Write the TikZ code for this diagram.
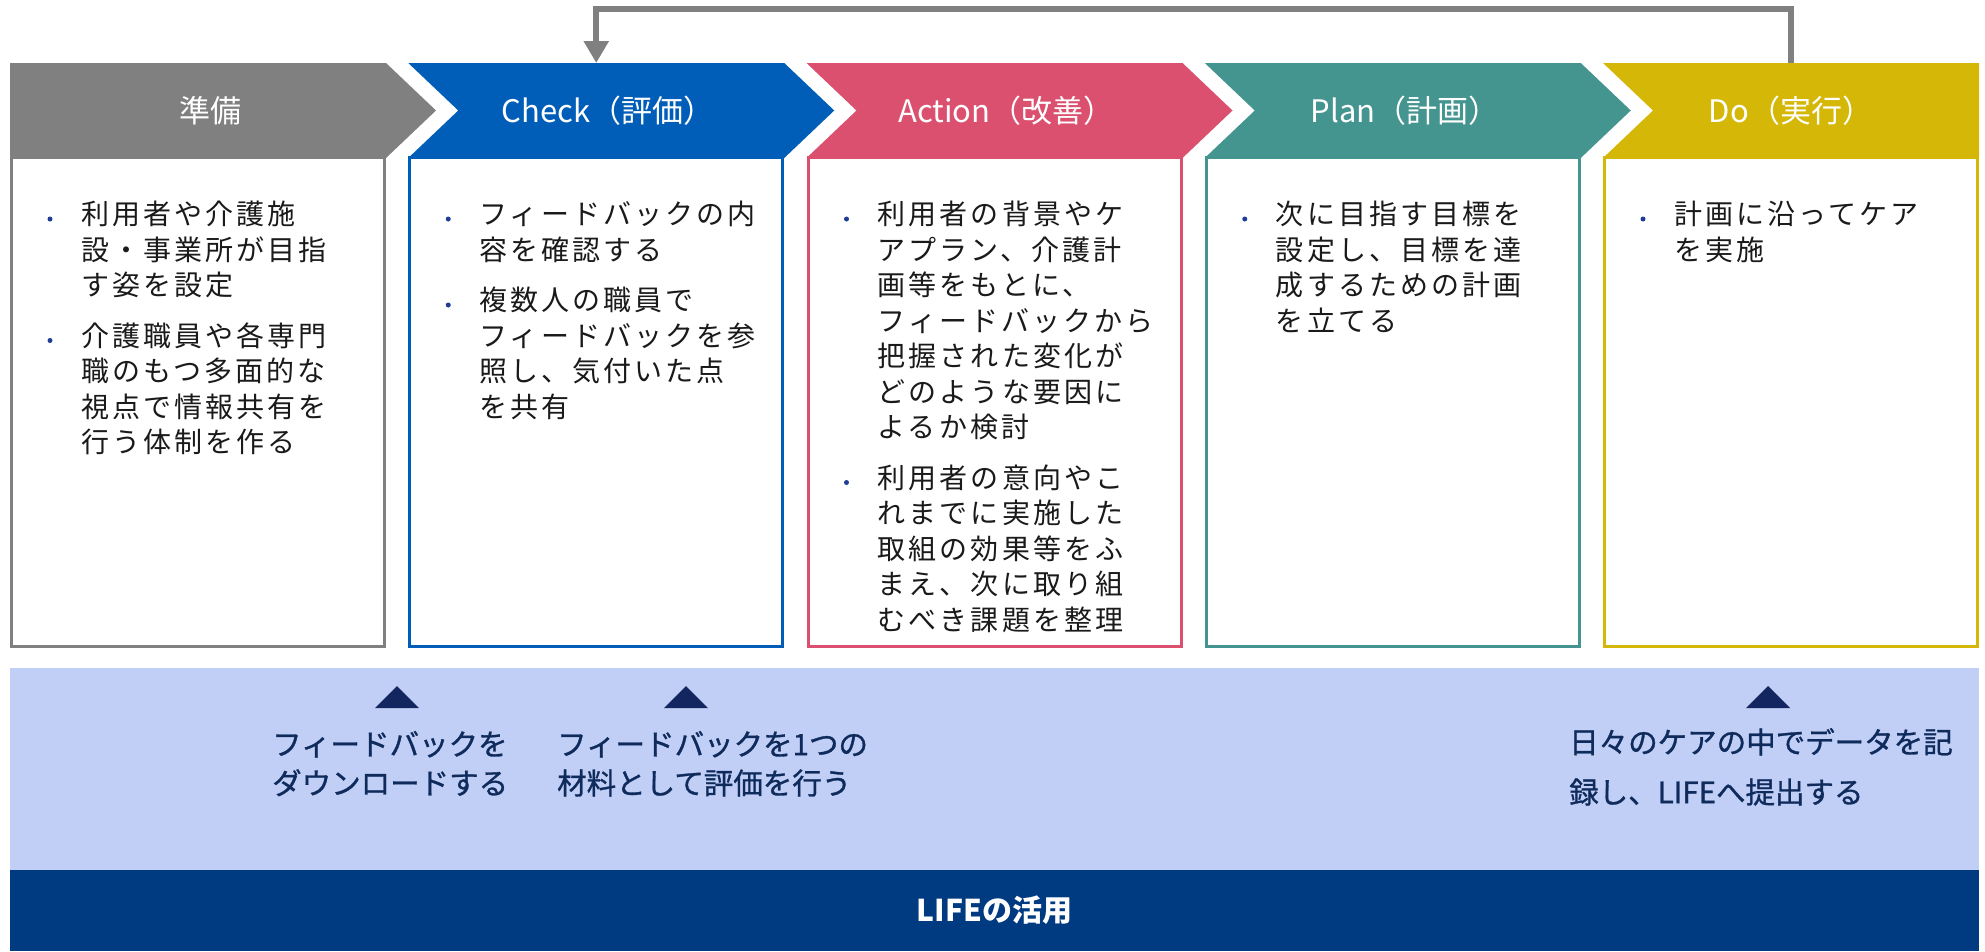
\documentclass[tikz,border=0pt]{standalone}
\usepackage{fontspec}
\setmainfont{Noto Sans CJK JP}
\newfontfamily\bodyfont[LetterSpace=11]{Noto Sans CJK JP}
\newfontfamily\labelfont[FakeBold=1]{Noto Sans CJK JP}
\usetikzlibrary{arrows.meta}
\definecolor{cgray}{HTML}{808080}
\definecolor{cblue}{HTML}{005EB8}
\definecolor{cred}{HTML}{DB4F6F}
\definecolor{cteal}{HTML}{44948F}
\definecolor{cyellow}{HTML}{D4B707}
\definecolor{lightband}{HTML}{C1CFF6}
\definecolor{darkband}{HTML}{003A80}
\definecolor{navytext}{HTML}{0E2B5C}
\definecolor{navytri}{HTML}{13265F}
\definecolor{bulletc}{HTML}{1F3C99}
\definecolor{bodytext}{HTML}{1A1A1A}
\newcommand\fstrut{\rule{0pt}{28pt}}
\begin{document}
\begin{tikzpicture}[x=1pt,y=-1pt,
  boxframe/.style={line width=3pt,fill=white},
  hdr/.style={anchor=base,inner sep=0pt,text=white,font=\fontsize{31}{36}\selectfont},
  bodytxt/.style={anchor=north west,inner sep=0pt,align=left,text=bodytext,font=\bodyfont\fontsize{28}{35.5}\selectfont},
  bulletdot/.style={circle,fill=bulletc,inner sep=0pt,minimum size=5pt},
  lbl/.style={anchor=north west,inner sep=0pt,align=left,text=navytext},
  loopline/.style={draw=cgray,line width=6pt,-{Triangle[width=24pt,length=22pt]}}
]
\useasboundingbox (0,0) rectangle (1985,951);

% body frames
\draw[boxframe,draw=cgray]   (11.5,157) rectangle (384.5,646.5);
\draw[boxframe,draw=cblue]   (409.75,157) rectangle (782.75,646.5);
\draw[boxframe,draw=cred]    (808,157) rectangle (1181,646.5);
\draw[boxframe,draw=cteal]   (1206.25,157) rectangle (1579.25,646.5);
\draw[boxframe,draw=cyellow] (1604.5,157) rectangle (1977.5,646.5);

% chevrons
\fill[cgray] (10,63) -- (386,63) -- (436,110.5) -- (386,158) -- (10,158) -- cycle;
\fill[cblue] (408.25,63) -- (784.25,63) -- (834.25,110.5) -- (784.25,158) -- (408.25,158) -- (458.25,110.5) -- cycle;
\fill[cred] (806.5,63) -- (1182.5,63) -- (1232.5,110.5) -- (1182.5,158) -- (806.5,158) -- (856.5,110.5) -- cycle;
\fill[cteal] (1204.75,63) -- (1580.75,63) -- (1630.75,110.5) -- (1580.75,158) -- (1204.75,158) -- (1254.75,110.5) -- cycle;
\fill[cyellow] (1603,63) -- (1979,63) -- (1979,158) -- (1603,158) -- (1653,110.5) -- cycle;

% headers
\node[hdr] (h0) at (210,122) {準備};
\node[hdr] (h1) at (608,122) {Check（評価）};
\node[hdr] (h2) at (1006.5,122) {Action（改善）};
\node[hdr] (h3) at (1405,122) {Plan（計画）};
\node[hdr] (h4) at (1791,122) {Do（実行）};

% loop arrow
\coordinate (loopstart) at (1791,63);
\coordinate (looptop) at (1791,9);
\coordinate (loopend) at (596.25,63);
\draw[loopline] (loopstart) -- (looptop) -| (loopend);

% body texts
\node[bulletdot] (d0a) at (50,219) {};
\node[bulletdot] (d0b) at (50,340.5) {};
\node[bodytxt] (t0) at (81,196.5) {\fstrut 利用者や介護施\\設・事業所が目指\\す姿を設定\\[15pt]介護職員や各専門\\職のもつ多面的な\\視点で情報共有を\\行う体制を作る};

\node[bulletdot] (d1a) at (448.25,219) {};
\node[bulletdot] (d1b) at (448.25,305) {};
\node[bodytxt] (t1) at (479.25,196.5) {\fstrut フィードバックの内\\容を確認する\\[15pt]複数人の職員で\\フィードバックを参\\照し、気付いた点\\を共有};

\node[bulletdot] (d2a) at (846.5,219) {};
\node[bulletdot] (d2b) at (846.5,482.5) {};
\node[bodytxt] (t2) at (877.5,196.5) {\fstrut 利用者の背景やケ\\アプラン、介護計\\画等をもとに、\\フィードバックから\\把握された変化が\\どのような要因に\\よるか検討\\[15pt]利用者の意向やこ\\れまでに実施した\\取組の効果等をふ\\まえ、次に取り組\\むべき課題を整理};

\node[bulletdot] (d3a) at (1244.75,219) {};
\node[bodytxt] (t3) at (1275.75,196.5) {\fstrut 次に目指す目標を\\設定し、目標を達\\成するための計画\\を立てる};

\node[bulletdot] (d4a) at (1643,219) {};
\node[bodytxt] (t4) at (1674,196.5) {\fstrut 計画に沿ってケア\\を実施};

% bottom bands
\fill[lightband] (10,668) rectangle (1979,870);
\fill[darkband] (10,870) rectangle (1979,951);

\fill[navytri] (375,708) -- (397,686) -- (419,708) -- cycle;
\fill[navytri] (664,708) -- (686,686) -- (708,708) -- cycle;
\fill[navytri] (1746,708) -- (1768,686) -- (1790,708) -- cycle;

\node[lbl,font=\labelfont\fontsize{29.5}{39}\selectfont] (l1) at (272,727) {\fstrut フィードバックを\\ダウンロードする};
\node[lbl,font=\labelfont\fontsize{29.5}{39}\selectfont] (l2) at (557,727) {\fstrut フィードバックを1つの\\材料として評価を行う};
\node[lbl,font=\labelfont\fontsize{29.5}{50}\selectfont] (l3) at (1569,725) {\fstrut 日々のケアの中でデータを記\\録し、LIFEへ提出する};

\node[text=white,font=\bfseries\fontsize{30}{36}\selectfont,inner sep=0pt] (life) at (994.5,910) {LIFEの活用};
\end{tikzpicture}
\end{document}
